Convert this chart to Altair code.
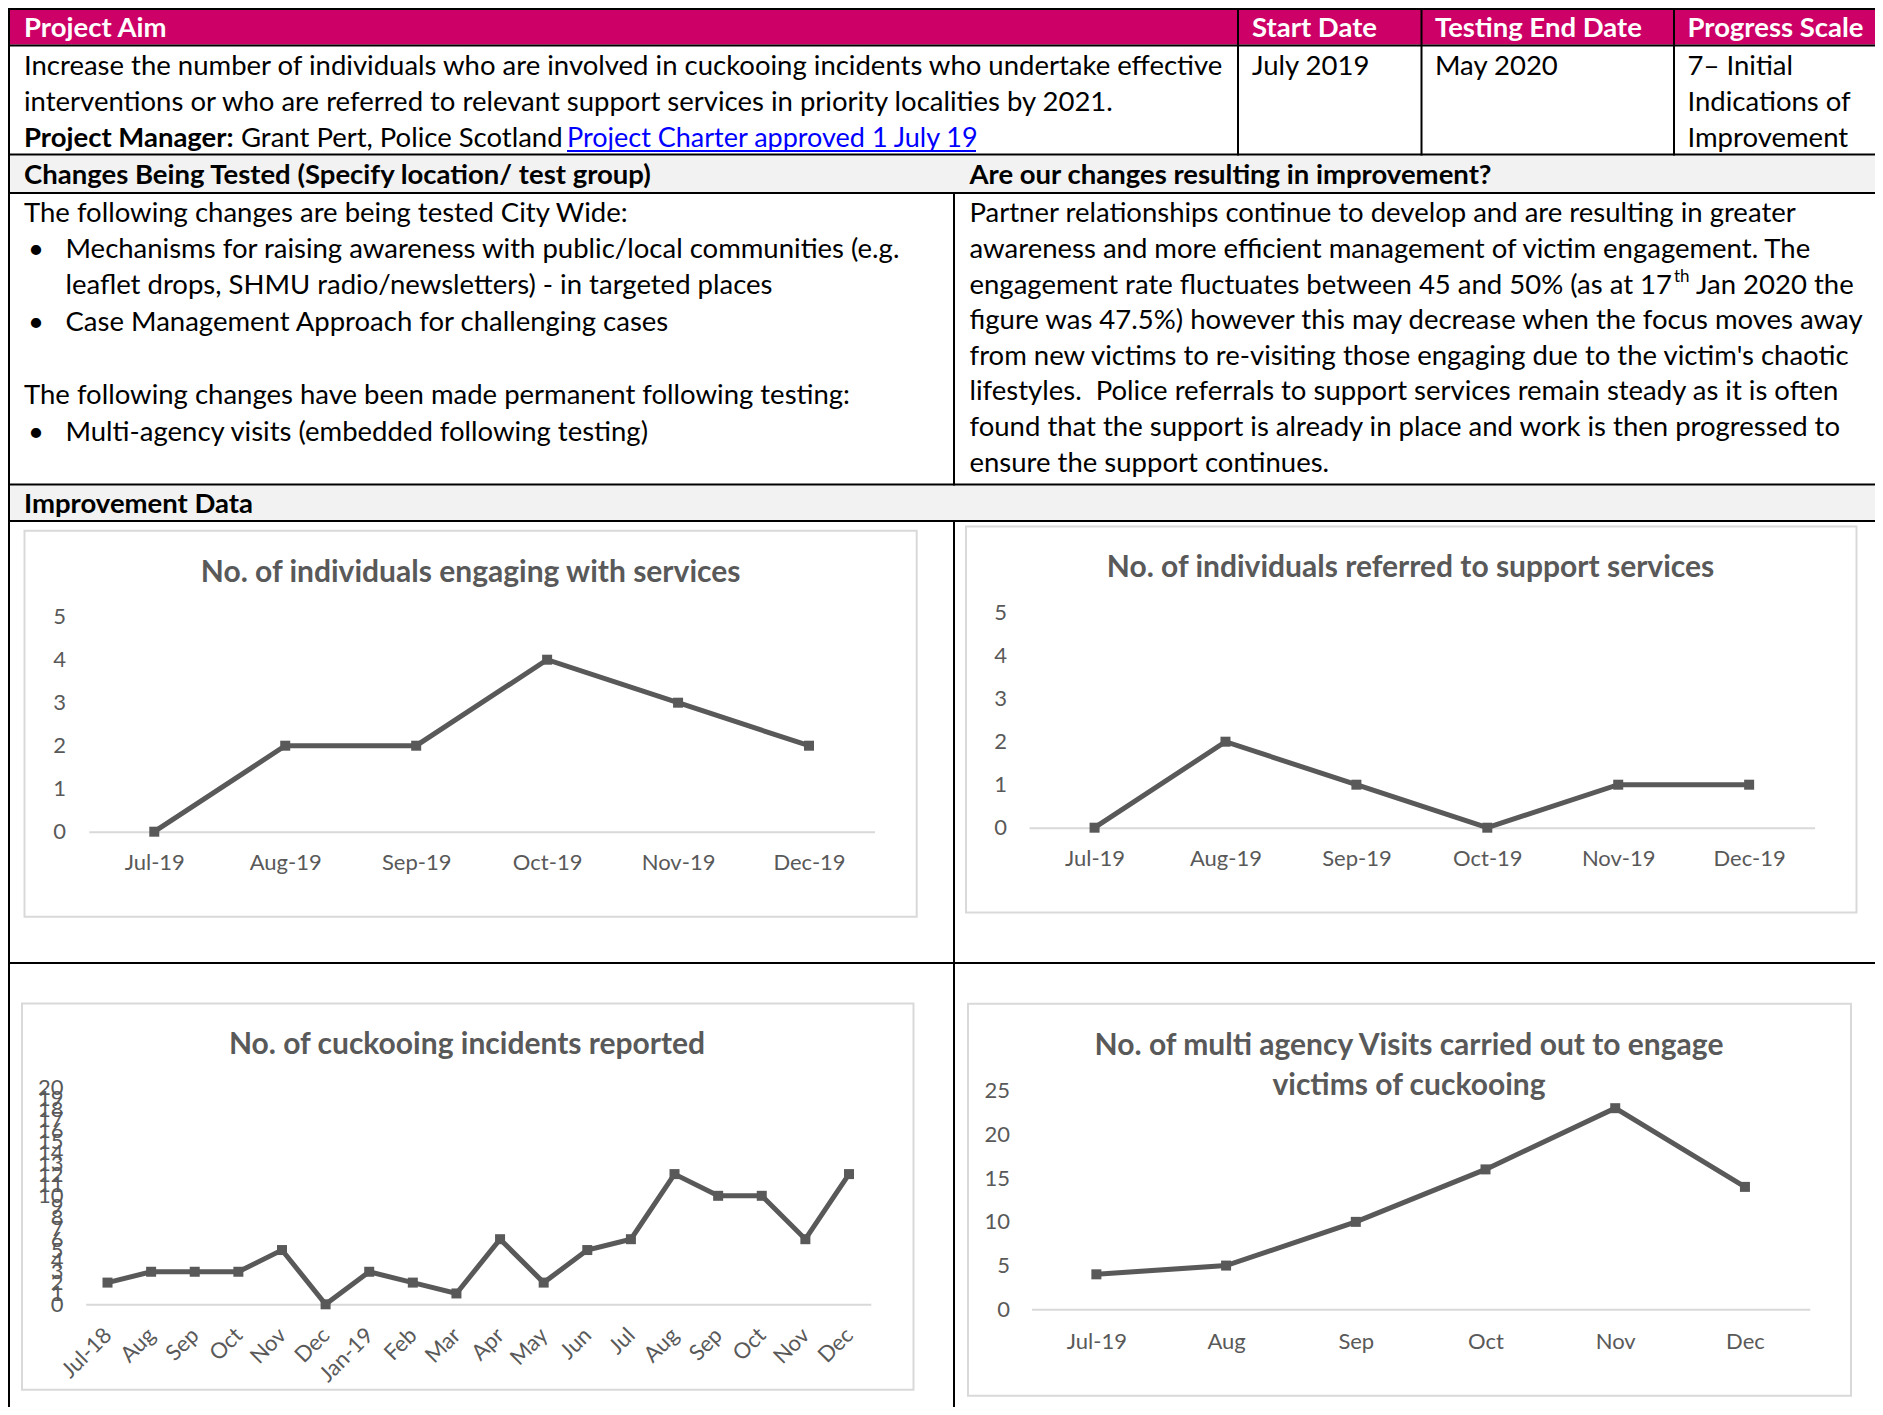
import altair as alt
import pandas as pd

# ---------------- chart data ----------------
months_19 = ["Jul-19", "Aug-19", "Sep-19", "Oct-19", "Nov-19", "Dec-19"]
engaging_counts = [0, 2, 2, 4, 3, 2]
referred_counts = [0, 2, 1, 0, 1, 1]

incident_months = ["Jul-18", "Aug", "Sep", "Oct", "Nov", "Dec", "Jan-19", "Feb", "Mar",
                   "Apr", "May", "Jun", "Jul", "Aug", "Sep", "Oct", "Nov", "Dec"]
incident_counts = [2, 3, 3, 3, 5, 0, 3, 2, 1, 6, 2, 5, 6, 12, 10, 10, 6, 12]

visit_months = ["Jul-19", "Aug", "Sep", "Oct", "Nov", "Dec"]
visit_counts = [4, 5, 10, 16, 23, 14]

engage_ticks = [0, 1, 2, 3, 4, 5]
referred_ticks = [0, 1, 2, 3, 4, 5]
incident_ticks = [0, 1, 2, 3, 4, 5, 6, 7, 8, 9, 10, 11, 12, 13, 14, 15, 16, 17, 18, 19, 20]
visit_ticks = [0, 5, 10, 15, 20, 25]

# ---------------- table text ----------------
header_labels = ["Project Aim", "Start Date", "Testing End Date", "Progress Scale"]
aim_lines = [
    "Increase the number of individuals who are involved in cuckooing incidents who undertake effective",
    "interventions or who are referred to relevant support services in priority localities by 2021.",
]
manager_label = "Project Manager:"
manager_text = "Grant Pert, Police Scotland"
charter_link = "Project Charter approved 1 July 19"
start_date = "July 2019"
end_date = "May 2020"
progress_lines = ["7\u2013 Initial", "Indications of", "Improvement"]
changes_header = "Changes Being Tested (Specify location/ test group)"
results_header = "Are our changes resulting in improvement?"
changes_intro = "The following changes are being tested City Wide:"
changes_bullets = [
    ["Mechanisms for raising awareness with public/local communities (e.g.",
     "leaflet drops, SHMU radio/newsletters) - in targeted places"],
    ["Case Management Approach for challenging cases"],
]
permanent_intro = "The following changes have been made permanent following testing:"
permanent_bullets = [["Multi-agency visits (embedded following testing)"]]
results_lines = [
    "Partner relationships continue to develop and are resulting in greater",
    "awareness and more efficient management of victim engagement. The",
    None,
    "figure was 47.5%) however this may decrease when the focus moves away",
    "from new victims to re-visiting those engaging due to the victim's chaotic",
    "lifestyles.\u00a0 Police referrals to support services remain steady as it is often",
    "found that the support is already in place and work is then progressed to",
    "ensure the support continues.",
]
results_line3 = ["engagement rate fluctuates between 45 and 50% (as at 17", "th", "Jan 2020 the"]
improvement_header = "Improvement Data"
chart_titles = [
    ["No. of individuals engaging with services"],
    ["No. of individuals referred to support services"],
    ["No. of cuckooing incidents reported"],
    ["No. of multi agency Visits carried out to engage", "victims of cuckooing"],
]

# ---------------- styles ----------------
FONT = "Lato"
BODY = 27.5
LINK_SIZE = 27
TITLE = 30
TICK = 22
MAGENTA = "#CC0066"
HEAD_GRAY = "#F2F2F2"
INK = "#000000"
CHART_INK = "#595959"
FRAME = "#D9D9D9"
LINK = "#0000FF"

ONE = pd.DataFrame({"k": [0]})


def rect(x1, x2, y1, y2, fill):
    return alt.Chart(ONE).mark_rect(fill=fill, strokeWidth=0).encode(
        x=alt.value(x1), x2=alt.value(x2), y=alt.value(y1), y2=alt.value(y2))


def frame(x1, x2, y1, y2):
    return alt.Chart(ONE).mark_rect(fillOpacity=0, stroke=FRAME, strokeWidth=2).encode(
        x=alt.value(x1), x2=alt.value(x2), y=alt.value(y1), y2=alt.value(y2))


def text(s, x, y, size=BODY, weight="normal", color=INK, align="left"):
    return alt.Chart(ONE).mark_text(
        text=s, font=FONT, fontSize=size, fontWeight=weight, color=color,
        align=align, baseline="middle").encode(x=alt.value(x), y=alt.value(y))


# ---------------- top part of the table ----------------
W = 1867
TOP_H = 514
LEFT_X = 16
RIGHT_X = 961.5

top_layers = [
    rect(2, W, 2, 36.5, MAGENTA),
    rect(2, W, 147.5, 184, HEAD_GRAY),
    rect(2, W, 477.5, 512, HEAD_GRAY),
    rect(0, W, 0, 2, INK),
    rect(0, W, 36.5, 38.5, INK),
    rect(0, W, 145.5, 147.5, INK),
    rect(0, W, 184, 186, INK),
    rect(0, W, 475.5, 477.5, INK),
    rect(0, W, 512, 514, INK),
    rect(0, 2, 0, TOP_H, INK),
    rect(1229, 1231, 0, 147.5, INK),
    rect(1412.5, 1414.5, 0, 147.5, INK),
    rect(1665, 1667, 0, 147.5, INK),
    rect(945, 947, 184, 477.5, INK),
]

head_x = [LEFT_X, 1244, 1427, 1679.5]
for lab, hx in zip(header_labels, head_x):
    top_layers.append(text(lab, hx, 21.2, weight="bold", color="white"))

row2_y = [59, 95, 131]
top_layers.append(text(aim_lines[0], LEFT_X, row2_y[0]))
top_layers.append(text(aim_lines[1], LEFT_X, row2_y[1]))
top_layers.append(text(manager_label, LEFT_X, row2_y[2], weight="bold"))
top_layers.append(text(manager_text, 233, row2_y[2]))
top_layers.append(text(charter_link, 559, row2_y[2], size=LINK_SIZE, color=LINK))
top_layers.append(rect(559, 968, 142, 144, LINK))
top_layers.append(text(start_date, 1244, row2_y[0]))
top_layers.append(text(end_date, 1427, row2_y[0]))
for s, yy in zip(progress_lines, row2_y):
    top_layers.append(text(s, 1679.5, yy))

top_layers.append(text(changes_header, LEFT_X, 167.5, weight="bold"))
top_layers.append(text(results_header, RIGHT_X, 167.5, weight="bold"))

# left column of row 4
left_y = [205.5, 241.8, 277.8, 315, 351, 387.5, 424.5]
BULLET_X = 28
BULLET_TEXT_X = 57.5
top_layers.append(text(changes_intro, LEFT_X, left_y[0]))
top_layers.append(text("\u2022", BULLET_X, left_y[1], align="center"))
top_layers.append(text(changes_bullets[0][0], BULLET_TEXT_X, left_y[1]))
top_layers.append(text(changes_bullets[0][1], BULLET_TEXT_X, left_y[2]))
top_layers.append(text("\u2022", BULLET_X, left_y[3], align="center"))
top_layers.append(text(changes_bullets[1][0], BULLET_TEXT_X, left_y[3]))
top_layers.append(text(permanent_intro, LEFT_X, left_y[5]))
top_layers.append(text("\u2022", BULLET_X, left_y[6], align="center"))
top_layers.append(text(permanent_bullets[0][0], BULLET_TEXT_X, left_y[6]))

# right column of row 4
right_y = [205.5, 241.5, 277.5, 313, 348.5, 384, 420, 455.6]
for s, yy in zip(results_lines, right_y):
    if s is not None:
        top_layers.append(text(s, RIGHT_X, yy))
top_layers.append(text(results_line3[0], RIGHT_X, right_y[2]))
top_layers.append(text(results_line3[1], 1666, right_y[2] - 9, size=17))
top_layers.append(text(results_line3[2], 1688, right_y[2]))

top_layers.append(text(improvement_header, LEFT_X, 496.5, weight="bold"))

top = alt.layer(*top_layers).properties(width=W, height=TOP_H)


# ---------------- chart panels ----------------
def x_axis(offset, pad, angle=0, expr=None, align=None, baseline=None):
    kw = dict(title=None, orient="bottom", offset=offset, domain=True, domainColor=FRAME,
              domainWidth=2, ticks=False, tickSize=0, grid=False, labelPadding=pad,
              labelFont=FONT, labelFontSize=TICK, labelColor=CHART_INK, labelAngle=angle)
    if expr is not None:
        kw["labelExpr"] = expr
    if align is not None:
        kw["labelAlign"] = align
    if baseline is not None:
        kw["labelBaseline"] = baseline
    return alt.Axis(**kw)


def y_axis(offset, values):
    return alt.Axis(title=None, orient="left", offset=offset, domain=False, ticks=False,
                    tickSize=0, grid=False, labelPadding=0, values=values, labelFont=FONT,
                    labelFontSize=TICK, labelColor=CHART_INK, labelOverlap=False,
                    labelFlush=False)


def series(df, xenc, yenc):
    line = alt.Chart(df).mark_line(color=CHART_INK, strokeWidth=5).encode(x=xenc, y=yenc)
    pts = alt.Chart(df).mark_point(shape="square", filled=True, size=100, color=CHART_INK,
                                   opacity=1).encode(x=xenc, y=yenc)
    return [line, pts]


def title_layers(lines, cx, cy, step=40):
    return [text(s, cx, cy + i * step, size=TITLE, weight="bold", color=CHART_INK, align="center")
            for i, s in enumerate(lines)]


# Panel A
AW, AH = 947, 442
dfA = pd.DataFrame({"month": months_19, "value": engaging_counts})
xA = alt.X("month:N", sort=months_19,
           scale=alt.Scale(type="point", domain=months_19, range=[80.8, 866.5], padding=0.5),
           axis=x_axis(309.7 - AH, 21))
yA = alt.Y("value:Q", scale=alt.Scale(domain=[0, 5], range=[309.7, 94.7], nice=False),
           axis=y_axis(-57.5, engage_ticks))
panelA = alt.layer(
    frame(16.5, 908.7, 8.7, 394.7),
    rect(0, 2, 0, AH, INK),
    rect(945, 947, 0, AH, INK),
    rect(0, AW, 440, 442, INK),
    *title_layers(chart_titles[0], 462.6, 51),
    *series(dfA, xA, yA),
).properties(width=AW, height=AH)

# Panel B
BW, BH = 920, 442
dfB = pd.DataFrame({"month": months_19, "value": referred_counts})
xB = alt.X("month:N", sort=months_19,
           scale=alt.Scale(type="point", domain=months_19, range=[74.1, 859.6], padding=0.5),
           axis=x_axis(305.7 - BH, 21))
yB = alt.Y("value:Q", scale=alt.Scale(domain=[0, 5], range=[305.7, 90.7], nice=False),
           axis=y_axis(-51.5, referred_ticks))
panelB = alt.layer(
    frame(11, 901.5, 4.5, 390.5),
    rect(0, BW, 440, 442, INK),
    *title_layers(chart_titles[1], 455.5, 46),
    *series(dfB, xB, yB),
).properties(width=BW, height=BH)

# Panel C
CW, CH = 947, 443
idx = list(range(len(incident_months)))
dfC = pd.DataFrame({"idx": idx, "value": incident_counts})
c_expr = "[" + ",".join("'" + m + "'" for m in incident_months) + "][datum.value]"
xC = alt.X("idx:O",
           scale=alt.Scale(type="point", domain=idx, range=[77.7, 862.8], padding=0.5),
           axis=x_axis(340.3 - CH, 27, angle=315, expr=c_expr, align="right", baseline="middle"))
yC = alt.Y("value:Q", scale=alt.Scale(domain=[0, 20], range=[340.3, 123.3], nice=False),
           axis=y_axis(-55, incident_ticks))
panelC = alt.layer(
    frame(14, 905.5, 39.5, 425.7),
    rect(0, 2, 0, CH, INK),
    rect(945, 947, 0, CH, INK),
    *title_layers(chart_titles[2], 459, 81),
    *series(dfC, xC, yC),
).properties(width=CW, height=CH)

# Panel D
DW, DH = 920, 443
dfD = pd.DataFrame({"month": visit_months, "value": visit_counts})
xD = alt.X("month:N", sort=visit_months,
           scale=alt.Scale(type="point", domain=visit_months, range=[76.5, 854.8], padding=0.5),
           axis=x_axis(345.3 - DH, 22))
yD = alt.Y("value:Q", scale=alt.Scale(domain=[0, 25], range=[345.3, 126.7], nice=False),
           axis=y_axis(-54.5, visit_ticks))
panelD = alt.layer(
    frame(13, 896, 39.8, 431.7),
    *title_layers(chart_titles[3], 454, 82),
    *series(dfD, xD, yD),
).properties(width=DW, height=DH)

row1 = alt.hconcat(panelA, panelB, spacing=0)
row2 = alt.hconcat(panelC, panelD, spacing=0)

chart = alt.vconcat(top, row1, row2, spacing=0).properties(
    padding=0
).configure_view(stroke="transparent", strokeWidth=0)

chart.save("out.html", embed_options={"renderer": "svg", "actions": False})
